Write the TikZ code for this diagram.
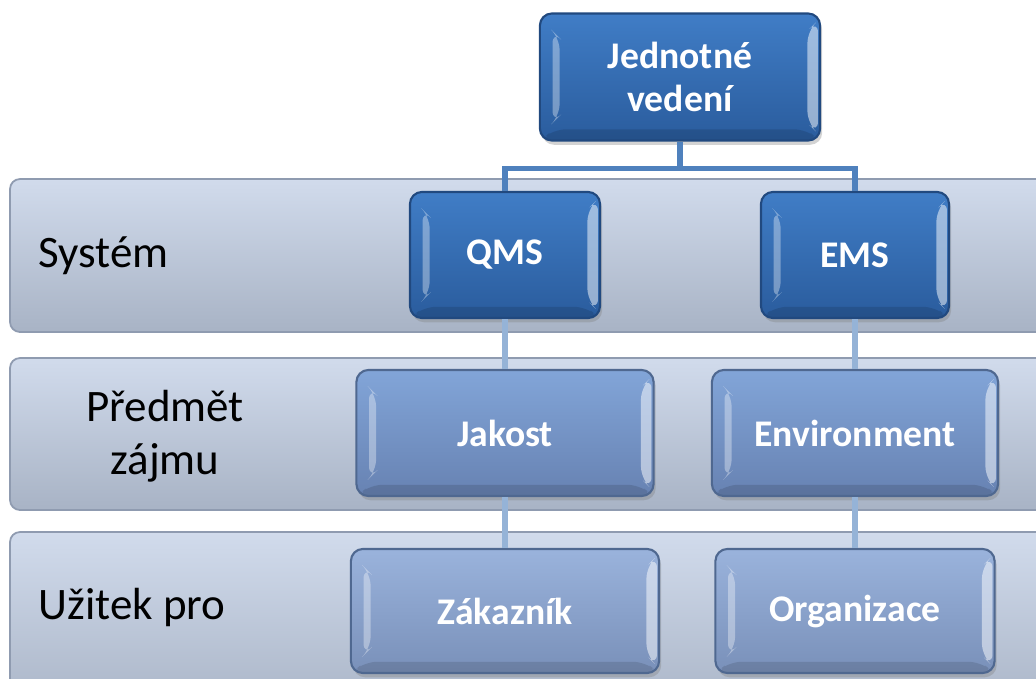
\documentclass[tikz,border=0pt]{standalone}
\usepackage{fontspec}
\setmainfont{Carlito}
\usetikzlibrary{shadows}
\definecolor{bandtop}{HTML}{D1DBEC}
\definecolor{bandbottom}{HTML}{A8B3C5}
\definecolor{bandborder}{HTML}{8F9BB0}
\definecolor{darktop}{HTML}{407DC6}
\definecolor{darkbottom}{HTML}{2A5C9D}
\definecolor{darkborder}{HTML}{21497F}
\definecolor{midtop}{HTML}{82A5D8}
\definecolor{midbottom}{HTML}{6782B2}
\definecolor{lighttop}{HTML}{9AB3DC}
\definecolor{lightbottom}{HTML}{7990B9}
\definecolor{softborder}{HTML}{4F6890}
\definecolor{linkdark}{HTML}{4F81BD}
\definecolor{linklight}{HTML}{95B3D7}
\tikzset{
  band/.style={rounded corners=0.1cm, top color=bandtop, bottom color=bandbottom, draw=bandborder, line width=0.5pt},
  bandlabel/.style={font=\fontsize{12.8}{15}\selectfont, text=black, align=center},
  bevel/.style={path picture={
    \fill[white, opacity=.35] ([shift={(3.6pt,-5pt)}]path picture bounding box.north west)
      -- ([shift={(5.6pt,-7pt)}]path picture bounding box.north west)
      -- ([shift={(5.6pt,7pt)}]path picture bounding box.south west)
      -- ([shift={(3.6pt,5pt)}]path picture bounding box.south west) -- cycle;
    \fill[white, opacity=.5] ([shift={(-0.6pt,-2pt)}]path picture bounding box.north east)
      -- ([shift={(-3.6pt,-5pt)}]path picture bounding box.north east)
      -- ([shift={(-3.6pt,5pt)}]path picture bounding box.south east)
      -- ([shift={(-0.6pt,2pt)}]path picture bounding box.south east) -- cycle;
    \fill[black, opacity=.12] ([shift={(4pt,3.2pt)}]path picture bounding box.south west)
      -- ([shift={(-4pt,3.2pt)}]path picture bounding box.south east)
      -- (path picture bounding box.south east) -- (path picture bounding box.south west) -- cycle;
  }},
  box/.style={rectangle, rounded corners=0.12cm, align=center, text=white, bevel,
    font=\bfseries\fontsize{10.7}{12}\selectfont, line width=0.6pt,
    drop shadow={shadow xshift=0.6pt, shadow yshift=-1.2pt, opacity=.35}},
  topbox/.style={box, top color=darktop, bottom color=darkbottom, draw=darkborder},
  midbox/.style={box, top color=midtop, bottom color=midbottom, draw=softborder},
  lowbox/.style={box, top color=lighttop, bottom color=lightbottom, draw=softborder},
  link/.style={line width=1.5pt},
}
\begin{document}
\begin{tikzpicture}[x=0.01cm, y=-0.01cm]
\clip (0,0) rectangle (1036,678);
\useasboundingbox (0,0) rectangle (1036,678);

% background bands
\draw[band] (10,179) rectangle (1060,332);
\draw[band] (10,358) rectangle (1060,510);
\draw[band] (10,532) rectangle (1060,720);

\node[bandlabel, anchor=west] (system) at (26,256) {Systém};
\node[bandlabel] (subject) at (165,436) {Předmět\\zájmu};
\node[bandlabel, anchor=west] (benefit) at (26,607) {Užitek pro};

% boxes
\node[topbox, minimum width=2.8cm, minimum height=1.27cm] (vedeni) at (680,77) {Jednotné\\vedení};
\node[topbox, minimum width=1.9cm, minimum height=1.26cm] (qms) at (505,255) {QMS};
\node[topbox, minimum width=1.88cm, minimum height=1.26cm] (ems) at (855,255) {EMS};
\node[midbox, minimum width=2.97cm, minimum height=1.26cm] (jakost) at (505,433) {Jakost};
\node[midbox, minimum width=2.86cm, minimum height=1.26cm] (environment) at (855,433) {Environment};
\node[lowbox, minimum width=3.08cm, minimum height=1.24cm] (zakaznik) at (505,611) {Zákazník};
\node[lowbox, minimum width=2.79cm, minimum height=1.24cm] (organizace) at (855,611) {Organizace};

% connectors
\draw[link, draw=linkdark] (vedeni.south) -- ++(0,27) coordinate (fork) -| (qms.north);
\draw[link, draw=linkdark] (fork) -| (ems.north);
\draw[link, draw=linklight] (qms) -- (jakost);
\draw[link, draw=linklight] (ems) -- (environment);
\draw[link, draw=linklight] (jakost) -- (zakaznik);
\draw[link, draw=linklight] (environment) -- (organizace);

\end{tikzpicture}
\end{document}
